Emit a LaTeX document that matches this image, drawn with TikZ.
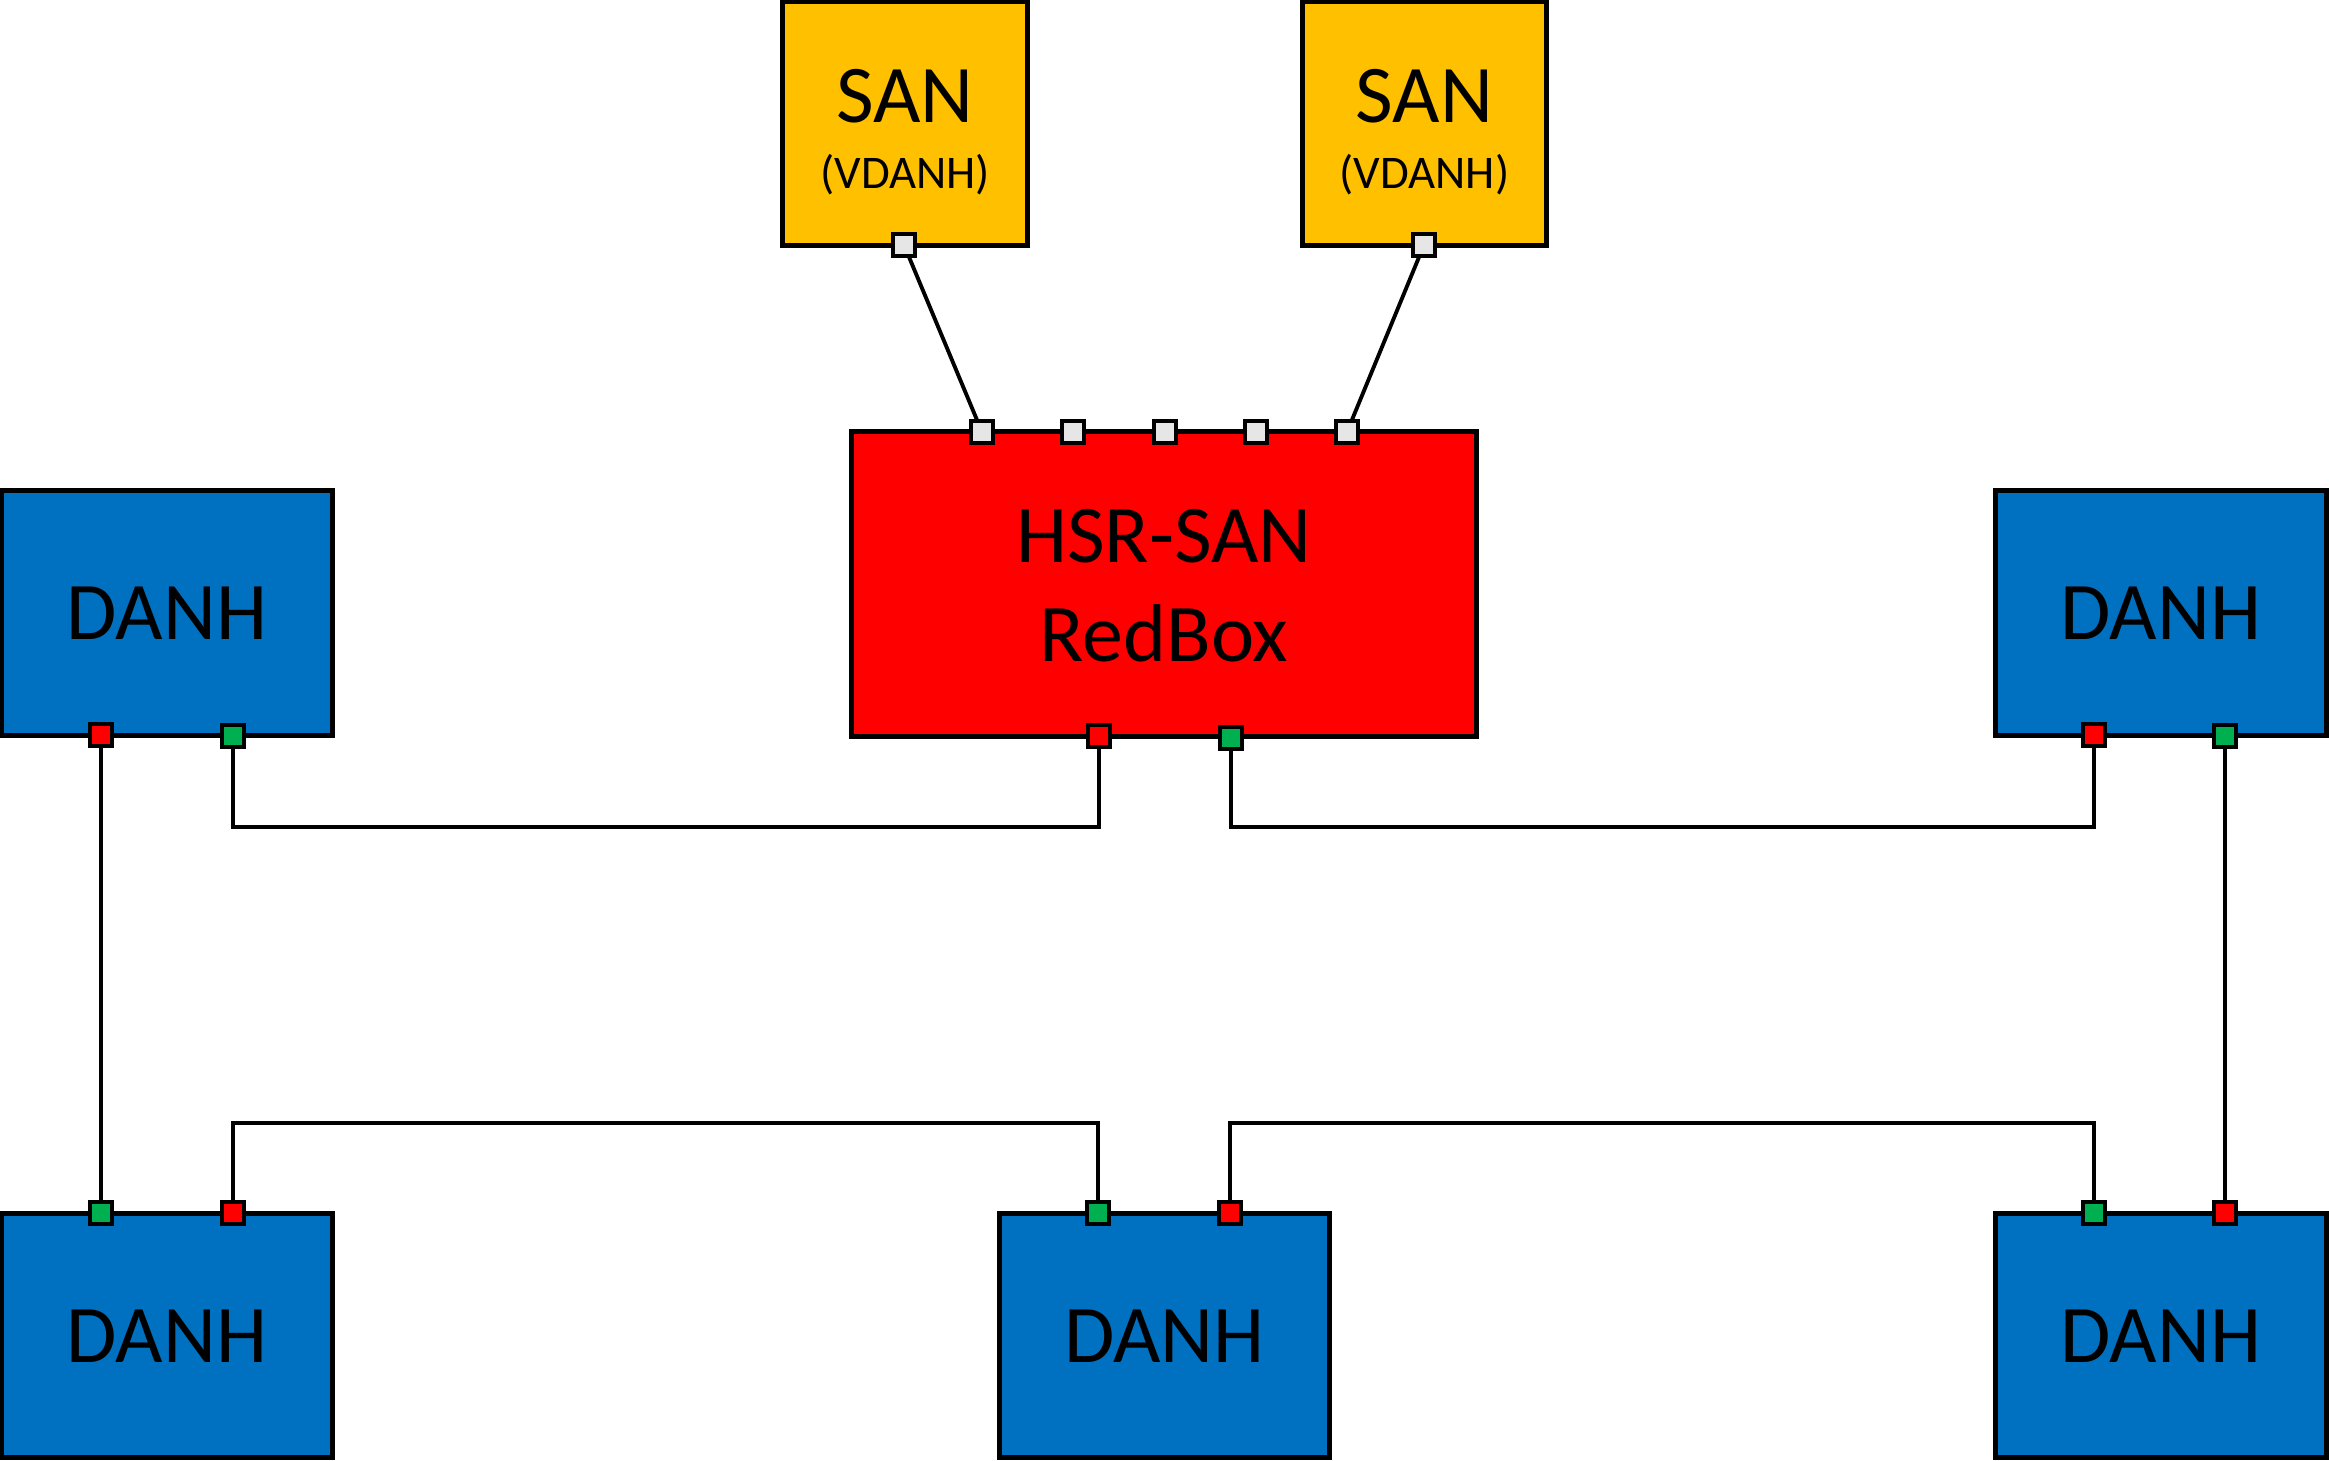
\documentclass[tikz,border=0pt]{standalone}
\usepackage{fontspec}
\setmainfont{Carlito}
\usetikzlibrary{backgrounds}
\definecolor{sanyellow}{HTML}{FFC000}
\definecolor{danhblue}{HTML}{0070C0}
\definecolor{rbred}{HTML}{FF0000}
\definecolor{portgreen}{HTML}{00B050}
\definecolor{portgrey}{HTML}{E6E6E6}
\begin{document}
\begin{tikzpicture}[x=0.01cm,y=-0.01cm,
  box/.style={draw=black, line width=1.4pt, rectangle, inner sep=0pt},
  danhbox/.style={box, fill=danhblue, minimum width=3.30cm, minimum height=2.44cm},
  sanbox/.style={box, fill=sanyellow, minimum width=2.44cm, minimum height=2.43cm},
  rbbox/.style={box, fill=rbred, minimum width=6.24cm, minimum height=3.04cm},
  port/.style={draw=black, line width=1.1pt, rectangle, minimum size=0.22cm, inner sep=0pt},
  rport/.style={port, fill=rbred},
  gport/.style={port, fill=portgreen},
  wport/.style={port, fill=portgrey},
  link/.style={draw=black, line width=1.1pt},
  big/.style={font=\fontsize{23.3}{28}\selectfont, inner sep=0pt, anchor=base},
  small/.style={font=\fontsize{13.3}{16}\selectfont, inner sep=0pt, anchor=base}]
\useasboundingbox (0,0) rectangle (2329,1461);

% boxes
\node[sanbox] (san1) at (905,123.5) {};
\node[sanbox] (san2) at (1424.5,123.5) {};
\node[rbbox] (rb) at (1164,584) {};
\node[danhbox] (dtl) at (167,613) {};
\node[danhbox] (dtr) at (2161,613) {};
\node[danhbox] (dbl) at (167,1335.5) {};
\node[danhbox] (dbc) at (1164.5,1335.5) {};
\node[danhbox] (dbr) at (2161,1335.5) {};

% texts
\node[big] (t-san1) at (905,123) {SAN};
\node[small] (t-v1) at (905,189) {(VDANH)};
\node[big] (t-san2) at (1424.5,123) {SAN};
\node[small] (t-v2) at (1424.5,189) {(VDANH)};
\node[big] (t-rb1) at (1164,563) {HSR-SAN};
\node[big] (t-rb2) at (1164,662) {RedBox};
\node[big] (t-dtl) at (167,640) {DANH};
\node[big] (t-dtr) at (2161,640) {DANH};
\node[big] (t-dbl) at (167,1362) {DANH};
\node[big] (t-dbc) at (1164.5,1362) {DANH};
\node[big] (t-dbr) at (2161,1362) {DANH};

% ports
\node[wport] (san1p) at (904,245) {};
\node[wport] (san2p) at (1424,245) {};
\node[wport] (rbp1) at (982,432) {};
\node[wport] (rbp2) at (1073,432) {};
\node[wport] (rbp3) at (1165,432) {};
\node[wport] (rbp4) at (1256,432) {};
\node[wport] (rbp5) at (1347,432) {};
\node[rport] (rbr) at (1099,736) {};
\node[gport] (rbg) at (1231,738) {};
\node[rport] (dtlr) at (101,735) {};
\node[gport] (dtlg) at (233,736) {};
\node[rport] (dtrr) at (2094,735) {};
\node[gport] (dtrg) at (2225,736) {};
\node[gport] (dblg) at (101,1213) {};
\node[rport] (dblr) at (233,1213) {};
\node[gport] (dbcg) at (1098,1213) {};
\node[rport] (dbcr) at (1230,1213) {};
\node[gport] (dbrg) at (2094,1213) {};
\node[rport] (dbrr) at (2225,1213) {};

% connectors
\begin{scope}[on background layer]
\draw[link] (san1p.center) -- (rbp1.center);
\draw[link] (san2p.center) -- (rbp5.center);
\draw[link] (dtlr.center) -- (dblg.center);
\draw[link] (dtlg.center) -- (dtlg.center |- 0,827) -| (rbr.center);
\draw[link] (rbg.center) -- (rbg.center |- 0,827) -| (dtrr.center);
\draw[link] (dtrg.center) -- (dbrr.center);
\draw[link] (dblr.center) -- (dblr.center |- 0,1123) -| (dbcg.center);
\draw[link] (dbcr.center) -- (dbcr.center |- 0,1123) -| (dbrg.center);
\end{scope}
\end{tikzpicture}
\end{document}
